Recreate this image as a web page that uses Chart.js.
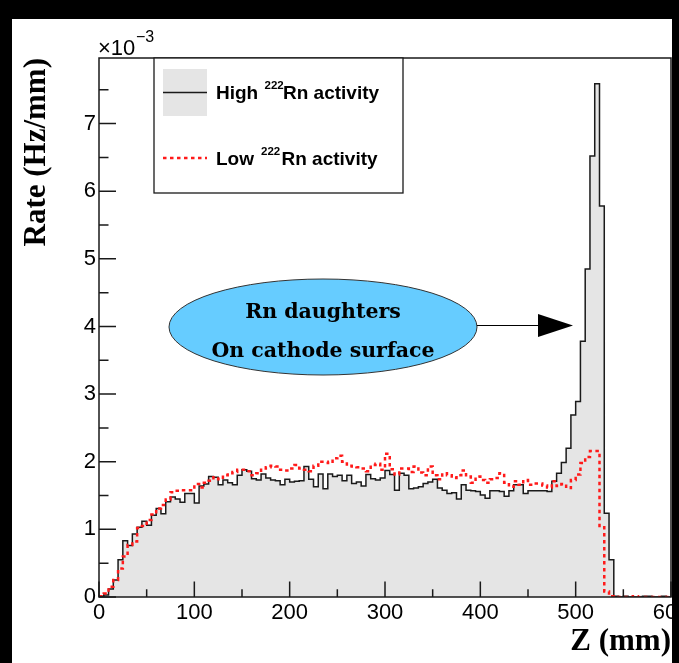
<!DOCTYPE html>
<html><head><meta charset="utf-8">
<script src="https://cdn.jsdelivr.net/npm/chart.js@4/dist/chart.umd.min.js"></script>
<style>
html,body{margin:0;padding:0;background:#000;overflow:hidden;}
canvas{display:block;}
</style>
</head><body>
<canvas id="c" width="679" height="663"></canvas>
<script>
// ---- data (rate in units of 1e-3 Hz/mm, 5 mm bins from 0 to 600 mm) ----
const BIN_WIDTH = 5;
const X_MIN = 0, X_MAX = 600;
const Y_MAX = 7.97;
const xTickLabels = ['0','100','200','300','400','500','600'];
const yTickLabels = ['0','1','2','3','4','5','6','7'];
const seriesNames = ['High', 'Low'];

const highRate = [
 0.01,0.03,0.12,0.25,0.55,0.83,0.76,0.93,1.03,1.12,
 1.06,1.21,1.31,1.23,1.41,1.48,1.45,1.40,1.53,1.53,
 1.39,1.64,1.67,1.78,1.77,1.66,1.73,1.69,1.66,1.80,
 1.88,1.86,1.75,1.73,1.82,1.76,1.73,1.72,1.66,1.74,
 1.70,1.71,1.72,1.93,1.74,1.63,1.82,1.60,1.82,1.78,
 1.80,1.72,1.80,1.68,1.70,1.64,1.81,1.75,1.73,1.76,
 1.87,1.81,1.58,1.83,1.80,1.60,1.61,1.63,1.68,1.70,
 1.74,1.61,1.58,1.53,1.54,1.45,1.66,1.58,1.57,1.56,
 1.51,1.46,1.57,1.57,1.56,1.49,1.57,1.66,1.66,1.53,
 1.57,1.57,1.57,1.57,1.56,1.71,1.83,1.99,2.20,2.69,
 2.89,3.78,4.85,6.52,7.59,5.78,1.24,0.55,0.01,0.00,
 0.01,0.00,0.00,0.00,0.01,0.01,0.00,0.00,0.01,0.00
];
const lowRate = [
 0.01,0.05,0.15,0.25,0.42,0.60,0.77,0.82,1.02,1.05,
 1.14,1.22,1.31,1.36,1.44,1.55,1.57,1.58,1.58,1.58,
 1.67,1.62,1.69,1.72,1.77,1.74,1.80,1.83,1.85,1.88,
 1.88,1.86,1.80,1.83,1.90,1.92,1.94,1.93,1.88,1.87,
 1.90,1.95,1.90,1.88,1.86,1.94,2.00,2.00,1.98,2.05,
 2.09,2.00,1.94,1.93,1.92,1.90,1.86,1.95,1.97,1.88,
 2.12,1.89,1.81,1.90,1.90,1.85,1.93,1.84,1.80,1.93,
 1.80,1.74,1.83,1.80,1.76,1.80,1.87,1.78,1.69,1.78,
 1.73,1.69,1.74,1.76,1.83,1.69,1.63,1.71,1.66,1.73,
 1.66,1.68,1.68,1.65,1.62,1.71,1.64,1.67,1.61,1.73,
 1.81,1.98,2.07,2.16,2.16,1.03,0.08,0.01,0.00,0.00,
 0.00,0.00,0.01,0.00,0.00,0.00,0.00,0.00,0.00,0.00
];

const binEdges = highRate.map((_, i) => X_MIN + i * BIN_WIDTH);
function toSteps(values) {
  const pts = values.map((v, i) => ({x: binEdges[i], y: v}));
  pts.push({x: binEdges[values.length - 1] + BIN_WIDTH, y: values[values.length - 1]});
  return pts;
}

const GREY = '#e5e5e5';
const LINE = '#1a1a1a';
const RED = '#ff1a1a';
const SANS = '"Liberation Sans", Arial, Helvetica, sans-serif';
const SERIF = '"Liberation Serif", "Times New Roman", serif';

const rootStyle = {
  id: 'rootStyle',
  beforeDraw(chart) {
    const ctx = chart.ctx;
    ctx.save();
    ctx.fillStyle = '#fff';
    ctx.fillRect(0, 0, chart.width, chart.height);
    ctx.restore();
  },
  afterDatasetsDraw(chart) {
    const {ctx, chartArea: a, scales: {x, y}} = chart;
    ctx.save();
    ctx.strokeStyle = LINE;
    ctx.lineWidth = 1.5;
    ctx.beginPath();
    for (let v = X_MIN; v <= X_MAX; v += 50) {
      const px = x.getPixelForValue(v);
      const len = (v % 100 === 0) ? 15.5 : 7.8;
      ctx.moveTo(px, a.bottom); ctx.lineTo(px, a.bottom - len);
    }
    for (let v = 0; v <= Y_MAX; v += 0.5) {
      const py = y.getPixelForValue(v);
      const len = Number.isInteger(v) ? 17 : 9.5;
      ctx.moveTo(a.left, py); ctx.lineTo(a.left + len, py);
    }
    ctx.stroke();
    ctx.strokeRect(a.left, a.top, a.right - a.left, a.bottom - a.top);
    ctx.restore();
  },
  afterDraw(chart) {
    const ctx = chart.ctx;
    ctx.save();
    // legend box
    ctx.fillStyle = '#fff';
    ctx.fillRect(154, 58, 249, 135);
    ctx.strokeStyle = LINE; ctx.lineWidth = 1.3;
    ctx.strokeRect(154, 58, 249, 135);
    ctx.fillStyle = GREY;
    ctx.fillRect(163, 69, 44, 47);
    ctx.beginPath(); ctx.moveTo(163, 92.5); ctx.lineTo(207, 92.5);
    ctx.lineWidth = 1.5; ctx.strokeStyle = LINE; ctx.stroke();
    ctx.beginPath(); ctx.setLineDash([3.5, 3.5]); ctx.moveTo(163, 158); ctx.lineTo(207, 158);
    ctx.lineWidth = 2.5; ctx.strokeStyle = RED; ctx.stroke(); ctx.setLineDash([]);
    ctx.fillStyle = '#000';
    ctx.textBaseline = 'alphabetic'; ctx.textAlign = 'left';
    ctx.font = 'bold 19px ' + SANS;
    ctx.fillText(seriesNames[0], 216, 98.5);
    ctx.fillText('Rn activity', 283, 98.5);
    ctx.fillText(seriesNames[1], 216, 165);
    ctx.fillText('Rn activity', 281.5, 165);
    ctx.font = 'bold 11.5px ' + SANS;
    ctx.fillText('222', 264.5, 88.5);
    ctx.fillText('222', 261, 155);

    // exponent
    ctx.font = '22px ' + SANS;
    ctx.fillText('\u00d710', 98, 55);
    ctx.font = '16px ' + SANS;
    ctx.fillText('\u22123', 136, 42);

    // ellipse annotation
    ctx.beginPath();
    ctx.ellipse(323, 327, 154, 48, 0, 0, Math.PI * 2);
    ctx.fillStyle = '#66ccff'; ctx.fill();
    ctx.lineWidth = 1; ctx.strokeStyle = '#333'; ctx.stroke();
    ctx.fillStyle = '#000';
    ctx.textAlign = 'center';
    ctx.font = 'bold 20.5px "DejaVu Serif", serif';
    ctx.fillText('Rn daughters', 323, 318);
    ctx.fillText('On cathode surface', 323, 356.5);

    // arrow
    ctx.beginPath(); ctx.moveTo(477, 325.5); ctx.lineTo(540, 325.5);
    ctx.lineWidth = 1.2; ctx.strokeStyle = '#000'; ctx.stroke();
    ctx.beginPath(); ctx.moveTo(538, 314); ctx.lineTo(573, 325.5); ctx.lineTo(538, 337); ctx.closePath();
    ctx.fillStyle = '#000'; ctx.fill();

    // outer black border of the picture
    ctx.fillStyle = '#000';
    ctx.fillRect(0, 0, 679, 19);
    ctx.fillRect(0, 0, 12, 663);
    ctx.fillRect(672, 0, 7, 663);
    ctx.restore();
  }
};

new Chart(document.getElementById('c'), {
  type: 'line',
  data: {
    datasets: [
      {
        label: seriesNames[1],
        data: toSteps(lowRate),
        stepped: 'before',
        borderColor: RED,
        borderWidth: 2.5,
        borderDash: [3.5, 3.5],
        fill: false,
        pointRadius: 0,
        order: 0
      },
      {
        label: seriesNames[0],
        data: toSteps(highRate),
        stepped: 'before',
        borderColor: LINE,
        borderWidth: 1.5,
        backgroundColor: GREY,
        fill: 'origin',
        pointRadius: 0,
        order: 1
      }
    ]
  },
  options: {
    responsive: false,
    animation: false,
    devicePixelRatio: 1,
    layout: {padding: {left: 0, right: 8, top: 58, bottom: 0}},
    plugins: {legend: {display: false}, tooltip: {enabled: false}},
    scales: {
      x: {
        type: 'linear', min: X_MIN, max: X_MAX,
        grid: {display: false, drawTicks: false}, border: {display: false},
        ticks: {
          stepSize: 100, autoSkip: false, maxRotation: 0, padding: 3,
          color: '#000', font: {family: SANS, size: 22},
          callback: (v) => xTickLabels[Math.round(v / 100)] ?? ''
        },
        title: {
          display: true, text: 'Z (mm)', align: 'end', color: '#000',
          font: {family: SERIF, size: 31, weight: 'bold', lineHeight: 1.2},
          padding: {top: 0, bottom: 2}
        },
        afterFit(s) { s.height = 66; s.paddingLeft = 0; s.paddingRight = 0; }
      },
      y: {
        type: 'linear', min: 0, max: Y_MAX,
        grid: {display: false, drawTicks: false}, border: {display: false},
        ticks: {
          stepSize: 1, includeBounds: false, padding: 3,
          color: '#000', font: {family: SANS, size: 22},
          callback: (v) => yTickLabels[v] ?? ''
        },
        title: {
          display: true, text: 'Rate (Hz/mm)', align: 'end', color: '#000',
          font: {family: SERIF, size: 31, weight: 'bold', lineHeight: 1.2},
          padding: {top: 18, bottom: 0}
        },
        afterFit(s) { s.width = 99; s.paddingTop = 0; s.paddingBottom = 0; }
      }
    }
  },
  plugins: [rootStyle]
});
</script>
</body></html>
